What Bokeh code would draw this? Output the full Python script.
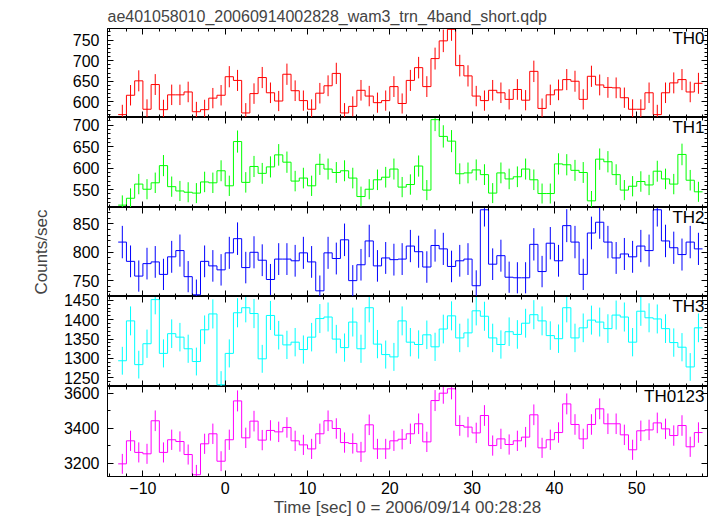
import numpy as np
from bokeh.plotting import figure
from bokeh.layouts import column
from bokeh.models import FixedTicker, LinearAxis, Label, Range1d
from bokeh.embed import file_html
from bokeh.resources import INLINE

# bin centres [sec]
time_s = [-12.5, -11.5, -10.5, -9.5, -8.5, -7.5, -6.5, -5.5, -4.5, -3.5, -2.5, -1.5, -0.5,
          0.5, 1.5, 2.5, 3.5, 4.5, 5.5, 6.5, 7.5, 8.5, 9.5, 10.5, 11.5, 12.5, 13.5, 14.5,
          15.5, 16.5, 17.5, 18.5, 19.5, 20.5, 21.5, 22.5, 23.5, 24.5, 25.5, 26.5, 27.5,
          28.5, 29.5, 30.5, 31.5, 32.5, 33.5, 34.5, 35.5, 36.5, 37.5, 38.5, 39.5, 40.5,
          41.5, 42.5, 43.5, 44.5, 45.5, 46.5, 47.5, 48.5, 49.5, 50.5, 51.5, 52.5, 53.5,
          54.5, 55.5, 56.5, 57.5]

th0 = [569, 616, 651, 582, 642, 581, 617, 617, 624, 576, 581, 609, 616, 661, 652, 573, 620, 659,
       622, 602, 667, 627, 603, 582, 621, 639, 669, 573, 589, 628, 614, 598, 603, 637, 596,
       652, 683, 637, 705, 748, 776, 688, 663, 614, 603, 628, 622, 606, 630, 604, 674, 584,
       617, 629, 654, 650, 606, 662, 641, 635, 634, 610, 582, 582, 622, 569, 622, 646, 654,
       624, 645]
th1 = [514, 530, 563, 551, 566, 606, 557, 547, 544, 542, 568, 566, 594, 559, 662, 567, 604, 588,
       603, 631, 614, 570, 577, 559, 609, 598, 590, 594, 577, 534, 551, 573, 579, 598, 556,
       562, 605, 549, 713, 674, 663, 587, 589, 596, 585, 542, 589, 575, 580, 598, 573, 541,
       541, 610, 608, 595, 590, 524, 621, 615, 585, 549, 558, 569, 561, 593, 575, 563, 632,
       572, 545]
th2 = [818, 784, 758, 780, 783, 761, 792, 803, 757, 725, 784, 776, 769, 799, 824, 773, 800, 786,
       752, 788, 788, 785, 799, 783, 732, 799, 789, 822, 750, 778, 820, 776, 790, 787, 788,
       811, 801, 774, 812, 806, 775, 785, 788, 741, 875, 779, 794, 756, 755, 755, 814, 766,
       816, 785, 847, 818, 761, 834, 853, 818, 790, 797, 792, 811, 803, 875, 820, 808, 796,
       818, 806]
th3 = [1294, 1397, 1284, 1338, 1452, 1313, 1364, 1355, 1325, 1292, 1374, 1415, 1232, 1313, 1418,
       1431, 1416, 1299, 1411, 1360, 1335, 1342, 1323, 1355, 1403, 1407, 1350, 1328, 1394, 1325,
       1431, 1337, 1310, 1304, 1397,
       1342, 1336, 1361, 1330, 1376, 1410, 1353, 1366, 1423, 1409, 1353, 1336, 1369, 1362, 1391,
       1413, 1397, 1359, 1351, 1431, 1353, 1379, 1399, 1394, 1377, 1412, 1407, 1342, 1422, 1405,
       1402, 1377, 1341, 1329, 1278, 1379]
th0123 = [3198, 3329, 3263, 3255, 3443, 3263, 3335, 3325, 3251, 3136, 3312, 3369, 3213, 3335, 3556,
          3346, 3441, 3333, 3388, 3380, 3405, 3329, 3306, 3283, 3369, 3443, 3399, 3319, 3314, 3266,
          3420, 3283, 3283, 3329, 3338,
          3369, 3426, 3323, 3558, 3600, 3625, 3416, 3407, 3374, 3473, 3302, 3340, 3308, 3329, 3350,
          3477, 3289, 3335, 3376, 3539, 3422, 3340, 3422, 3511, 3426, 3426, 3363, 3278, 3386, 3391,
          3431, 3397, 3359, 3416, 3295, 3376]

names = ["TH0", "TH1", "TH2", "TH3", "TH0123"]
colors = ["#ff0000", "#00ff00", "#0000ff", "#00ffff", "#ff00ff"]
series = [th0, th1, th2, th3, th0123]
y_ranges = [(562, 778), (508.5, 718), (722, 879), (1227.5, 1460), (3126, 3638)]
y_major = [[600, 650, 700, 750], [550, 600, 650, 700], [750, 800, 850],
           [1250, 1300, 1350, 1400, 1450], [3200, 3400, 3600]]
y_minor_step = [10, 10, 10, 10, 100]
x_major = [-10, 0, 10, 20, 30, 40, 50]

title_text = "ae401058010_20060914002828_wam3_trn_4band_short.qdp"
x_label = "Time [sec] 0 = 2006/09/14 00:28:28"
y_label = "Counts/sec"

FONT = "Liberation Sans"
X0, X1 = -14.3, 58.6
frame_h = [89, 90, 89, 90, 90]
OVER = 9  # transparent overlap strip so tick labels at panel edges are not clipped


def style_axis(ax, labels):
    ax.major_tick_in = 6
    ax.major_tick_out = 0
    ax.minor_tick_in = 3
    ax.minor_tick_out = 0
    ax.axis_line_color = "black"
    ax.major_tick_line_color = "black"
    ax.minor_tick_line_color = "black"
    ax.major_label_text_font = FONT
    if labels:
        ax.major_label_text_color = "black"
        ax.major_label_text_font_size = "16px"
        ax.major_label_standoff = 8
    else:
        ax.major_label_text_color = None
        ax.major_label_text_font_size = "0px"
        ax.major_label_standoff = 0


figs = []
xminor = list(range(-14, 60, 2))
for i in range(5):
    lo, hi = y_ranges[i]
    p = figure(frame_width=600, frame_height=frame_h[i],
               x_range=Range1d(X0, X1), y_range=Range1d(lo, hi),
               output_backend="svg", toolbar_location=None, x_axis_type=None, y_axis_type=None,
               min_border_left=107, min_border_right=5,
               min_border_top=28 if i == 0 else OVER, min_border_bottom=0)
    if i > 0:
        p.margin = (-OVER, 0, 0, 0)
        p.border_fill_color = None
    else:
        p.border_fill_color = "white"
    p.outline_line_color = "black"
    p.background_fill_color = "white"

    step = y_minor_step[i]
    yminor = list(np.arange(np.ceil(lo / step) * step, hi, step))
    yt = FixedTicker(ticks=y_major[i], minor_ticks=yminor)
    xt = FixedTicker(ticks=x_major, minor_ticks=xminor)

    left = LinearAxis(ticker=yt)
    style_axis(left, True)
    right = LinearAxis(ticker=yt)
    style_axis(right, False)
    top = LinearAxis(ticker=xt)
    style_axis(top, False)
    bottom = LinearAxis(ticker=xt)
    style_axis(bottom, i == 4)
    if i == 2:
        left.axis_label = y_label
        left.axis_label_text_font = FONT
        left.axis_label_text_font_size = "17px"
        left.axis_label_text_font_style = "normal"
        left.axis_label_standoff = 19
    if i == 4:
        bottom.major_label_standoff = 5
        bottom.axis_label = x_label
        bottom.axis_label_text_font = FONT
        bottom.axis_label_text_font_size = "17px"
        bottom.axis_label_text_font_style = "normal"
        bottom.axis_label_standoff = 1
    p.add_layout(left, "left")
    p.add_layout(right, "right")
    p.add_layout(top, "above")
    p.add_layout(bottom, "below")

    vals = series[i]
    edges = [t - 0.5 for t in time_s] + [time_s[-1] + 0.5]
    steps_y = list(vals) + [vals[-1]]
    p.step(edges, steps_y, mode="after", line_color=colors[i], line_width=1)
    err = np.sqrt(np.array(vals, dtype=float))
    p.segment(x0=time_s, y0=list(np.array(vals) - err), x1=time_s, y1=list(np.array(vals) + err),
              line_color=colors[i], line_width=1)

    p.add_layout(Label(x=X1, y=hi, x_offset=-3, y_offset=0, text=names[i], text_align="right",
                       text_baseline="top", text_font=FONT, text_font_size="17px",
                       text_color="black"))
    if i == 0:
        p.title.text = title_text
        p.title.align = "left"
        p.title.text_font = FONT
        p.title.text_font_size = "16px"
        p.title.text_font_style = "normal"
        p.title.standoff = 7
        p.title.offset = 0
    figs.append(p)

layout = column(*figs, spacing=0)
open("out.html", "w").write(file_html(layout, INLINE))
